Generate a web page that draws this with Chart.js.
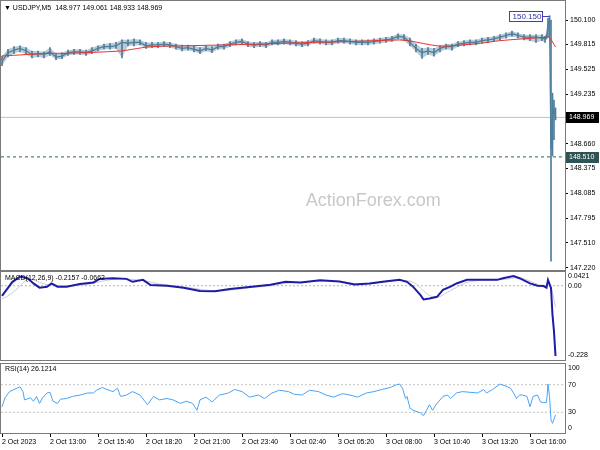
<!DOCTYPE html>
<html>
<head>
<meta charset="utf-8">
<title>USDJPY M5</title>
<script src="https://cdn.jsdelivr.net/npm/chart.js@4.4.0/dist/chart.umd.min.js"></script>
<style>
  body { margin: 0; background: #fff; }
  #wrap { position: relative; width: 600px; height: 450px; }
  canvas { position: absolute; left: 0; }
</style>
</head>
<body>
<div id="wrap">
  <canvas id="priceChart" width="600" height="271" style="top:0"></canvas>
  <canvas id="macdChart" width="600" height="90" style="top:271px"></canvas>
  <canvas id="rsiChart" width="600" height="89" style="top:361px"></canvas>
</div>
<script>
// M5 bars, x = bar number counted from 2 Oct 10:20
const timeIdx = [0, 32, 64, 96, 128, 160, 192, 224, 256, 288, 320, 352];
const timeLabels = ['2 Oct 2023', '2 Oct 13:00', '2 Oct 15:40', '2 Oct 18:20', '2 Oct 21:00', '2 Oct 23:40',
                    '3 Oct 02:40', '3 Oct 05:20', '3 Oct 08:00', '3 Oct 10:40', '3 Oct 13:20', '3 Oct 16:00'];

// price bars (sampled)
const barIdx = [0,4,8,12,16,20,24,28,32,36, 40,44,48,52,56,60,64,68,72,76,
                80,84,88,92,96,100,104,108,112,116, 120,124,128,132,136,140,144,148,152,156,
                160,164,168,172,176,180,184,188,192,196, 200,204,208,212,216,220,224,228,232,236,
                240,244,248,252,256,260,264,268,272,276, 280,284,288,292,296,300,304,308,312,316,
                320,324,328,332,336,340,344,348,352,356, 360,362,363,364,365,366,367,368,369];
const barClose = [149.62,149.72,149.75,149.77,149.74,149.70,149.71,149.70,149.73,149.67,
                  149.68,149.72,149.73,149.73,149.72,149.74,149.77,149.79,149.79,149.80,
                  149.84,149.83,149.84,149.84,149.80,149.81,149.81,149.82,149.81,149.79,
                  149.77,149.78,149.76,149.74,149.77,149.75,149.79,149.79,149.82,149.84,
                  149.85,149.82,149.81,149.82,149.81,149.84,149.84,149.85,149.84,149.83,
                  149.82,149.83,149.86,149.85,149.84,149.84,149.86,149.86,149.85,149.84,
                  149.84,149.84,149.85,149.86,149.87,149.88,149.91,149.90,149.84,149.77,
                  149.72,149.74,149.72,149.77,149.79,149.79,149.82,149.83,149.84,149.84,
                  149.86,149.87,149.88,149.90,149.92,149.94,149.92,149.90,149.90,149.90,
                  149.89,149.88,149.91,150.05,150.10,148.60,149.00,149.05,148.969];
const barLow = [149.57,149.67,149.71,149.73,149.70,149.66,149.67,149.66,149.69,149.64,
                149.65,149.69,149.70,149.70,149.69,149.71,149.74,149.76,149.76,149.77,
                149.66,149.80,149.80,149.81,149.77,149.78,149.78,149.79,149.78,149.76,
                149.74,149.75,149.73,149.71,149.74,149.72,149.76,149.76,149.79,149.81,
                149.82,149.79,149.78,149.79,149.78,149.81,149.81,149.82,149.81,149.80,
                149.79,149.80,149.83,149.82,149.81,149.81,149.83,149.83,149.82,149.81,
                149.81,149.81,149.82,149.83,149.84,149.85,149.88,149.86,149.80,149.73,
                149.655,149.70,149.68,149.73,149.76,149.75,149.79,149.80,149.81,149.81,
                149.83,149.84,149.85,149.87,149.89,149.91,149.89,149.87,149.86,149.84,
                149.86,149.84,149.88,149.90,149.98,147.30,148.52,148.71,148.94];
const barHigh = [149.68,149.76,149.79,149.80,149.78,149.74,149.74,149.73,149.78,149.71,
                 149.72,149.75,149.76,149.76,149.75,149.78,149.80,149.82,149.83,149.84,
                 149.87,149.87,149.88,149.87,149.84,149.84,149.84,149.85,149.84,149.82,
                 149.81,149.81,149.80,149.78,149.80,149.79,149.82,149.82,149.85,149.87,
                 149.88,149.85,149.84,149.85,149.84,149.87,149.87,149.88,149.87,149.86,
                 149.85,149.86,149.89,149.88,149.87,149.87,149.89,149.89,149.88,149.87,
                 149.87,149.87,149.88,149.89,149.90,149.91,149.94,149.93,149.89,149.82,
                 149.77,149.78,149.77,149.80,149.82,149.82,149.85,149.86,149.87,149.87,
                 149.89,149.90,149.91,149.93,149.95,149.97,149.95,149.93,149.93,149.93,
                 149.93,149.91,149.93,150.12,150.15,150.10,149.25,149.17,149.08];
const quietBars = 93;   // bars before the spike, drawn as a dense band

// moving average (red)
const maIdx = [0, 32, 43, 79, 87, 99, 132, 172, 199, 232, 265, 272, 290, 299, 319, 332, 352, 363, 365, 369];
const maVals = [149.682, 149.713, 149.713, 149.74, 149.76, 149.79, 149.804, 149.82, 149.836, 149.85,
                149.868, 149.856, 149.80, 149.80, 149.83, 149.86, 149.887, 149.90, 149.897, 149.786];

const priceTicks = [150.100, 149.815, 149.525, 149.235, 148.660, 148.375, 148.085, 147.795, 147.510, 147.220];
const lastPrice = 148.969;
const levelPrice = 148.510;
const sessionHigh = 150.150;
const sessionHighIdx = 365;

// MACD(12,26,9)
const macdIdx = [0,7,12,17,21,25,30,33,37,43, 52,61,65,74,83,87,94,99,110,121,
                 132,142,152,165,179,189,199,212,225,235, 245,255,265,270,274,279,281,285,290,294,
                 299,303,310,321,330,334,341,345,352,357, 361,363,364,366,367,368,369];
const macdVals = [-0.031,0.012,0.028,0.023,0.007,-0.006,-0.003,0.007,-0.003,-0.003,
                  0.005,0.010,0.021,0.023,0.021,0.012,0.018,0.002,0.000,-0.006,
                  -0.016,-0.017,-0.010,-0.004,0.003,0.012,0.010,0.017,0.013,0.004,
                  0.007,0.013,0.018,0.012,-0.003,-0.029,-0.042,-0.039,-0.034,-0.013,
                  -0.003,0.007,0.018,0.018,0.018,0.023,0.030,0.023,0.007,0.000,
                  -0.001,-0.006,0.018,-0.007,-0.090,-0.141,-0.2157];
const sigIdx = [0,3,10,17,22,28,35,45,55,65, 75,85,95,105,115,125,135,145,155,165,
                180,190,200,212,225,235,245,255,265,272, 277,282,287,292,297,303,310,320,330,338,
                345,352,358,364,366,369];
const sigVals = [-0.040,-0.034,-0.010,0.020,0.016,0.005,0.001,0.000,0.003,0.012,
                 0.020,0.020,0.015,0.005,0.000,-0.006,-0.013,-0.016,-0.012,-0.006,
                 0.000,0.008,0.010,0.014,0.013,0.007,0.006,0.011,0.016,0.014,
                 0.002,-0.020,-0.034,-0.033,-0.020,-0.005,0.010,0.017,0.018,0.021,
                 0.025,0.014,0.003,0.000,-0.005,-0.0662];
const macdAxis = [0.0421, 0, -0.228];
const macdAxisText = ['0.0421', '0.00', '-0.228'];

// RSI(14)
const rsiIdx = [0,2,5,10,12,14,15,19,21,23, 25,27,30,32,34,37,39,43,47,52,
                57,61,63,67,70,74,77,79,83,87, 92,97,101,105,110,114,119,123,127,130,
                132,136,140,145,151,155,160,165,171,175, 180,185,191,195,200,205,211,216,221,227,
                232,237,243,248,253,259,263,265,267,269, 270,272,274,279,281,283,285,287,290,294,
                297,299,303,307,312,317,321,323,327,332, 337,339,341,343,345,347,350,352,354,357,
                359,361,363,364,365,366,367,368,369];
const rsiVals = [38,51,60,65,67,60,48,51,46,53, 43,51,58,59,46,43,49,50,53,55,
                 58,58,62,66,63,60,65,53,55,60, 55,41,53,48,50,48,43,46,43,33,
                 48,52,45,55,58,63,60,52,55,50, 58,62,60,56,55,62,60,55,52,57,
                 55,52,58,60,63,66,70,71,65,50, 53,36,33,29,25,33,41,33,43,53,
                 55,50,58,60,59,58,63,58,63,71, 67,65,58,50,55,55,53,38,53,55,
                 45,44,44,71,53,19,14,20,26.12];
const rsiLevels = [70, 30];
const rsiAxis = [100, 70, 30, 0];

const FONT = "'Liberation Sans', Arial, sans-serif";
const X_MIN = -0.667, X_MAX = 375.333;
const BAR_COLOR = '#4f7e9b';

Chart.defaults.font.family = FONT;
Chart.defaults.font.size = 7;
Chart.defaults.color = '#000';
Chart.defaults.animation = false;

function pts(xs, ys) {
    return xs.map((x, i) => ({ x: x, y: ys[i] }));
}
function flat(v) {
    return [{ x: X_MIN, y: v }, { x: X_MAX, y: v }];
}

// box round each panel
const framePlugin = {
    id: 'frame',
    afterDraw(chart) {
        const a = chart.chartArea, ctx = chart.ctx;
        ctx.save();
        ctx.strokeStyle = '#7a7a7a';
        ctx.lineWidth = 1;
        ctx.strokeRect(a.left - 0.5, a.top - 0.5, a.right - a.left + 1, a.bottom - a.top + 1);
        ctx.restore();
    }
};

// name of the panel in the top left corner
const titlePlugin = {
    id: 'panelTitle',
    afterDraw(chart, args, opts) {
        const a = chart.chartArea, ctx = chart.ctx;
        ctx.save();
        ctx.font = '7px ' + FONT;
        ctx.fillStyle = '#000';
        ctx.textBaseline = 'middle';
        ctx.textAlign = 'left';
        ctx.fillText(opts.text, a.left + opts.dx, a.top + opts.dy);
        ctx.restore();
    }
};

// right hand labels of the indicator windows (kept inside the panel like MT4)
const sideLabelsPlugin = {
    id: 'sideLabels',
    afterDraw(chart, args, opts) {
        const a = chart.chartArea, ctx = chart.ctx, y = chart.scales.y;
        ctx.save();
        ctx.font = '7px ' + FONT;
        ctx.fillStyle = '#000';
        ctx.textBaseline = 'middle';
        ctx.textAlign = 'left';
        opts.values.forEach((v, i) => {
            let py = y.getPixelForValue(v);
            py = Math.min(Math.max(py, a.top + 4.5), a.bottom - 4.5);
            ctx.fillText(opts.labels[i], a.right + 3, py);
        });
        ctx.restore();
    }
};

const watermarkPlugin = {
    id: 'watermark',
    beforeDatasetsDraw(chart) {
        const a = chart.chartArea, ctx = chart.ctx;
        ctx.save();
        ctx.font = '18px ' + FONT;
        ctx.fillStyle = '#c8c8c8';
        ctx.textAlign = 'center';
        ctx.textBaseline = 'middle';
        ctx.fillText('ActionForex.com', a.left + (a.right - a.left) * 0.66, a.top + (a.bottom - a.top) * 0.743);
        ctx.restore();
    }
};

// price tags on the axis and the high callout
const priceTagsPlugin = {
    id: 'priceTags',
    afterDraw(chart) {
        const a = chart.chartArea, ctx = chart.ctx, y = chart.scales.y, x = chart.scales.x;
        ctx.save();
        ctx.font = '7px ' + FONT;
        ctx.textBaseline = 'middle';
        ctx.textAlign = 'left';
        [[lastPrice, '#000000'], [levelPrice, '#2f5353']].forEach(t => {
            const py = Math.round(y.getPixelForValue(t[0]));
            ctx.fillStyle = t[1];
            ctx.fillRect(a.right + 1, py - 5, 33, 11);
            ctx.fillStyle = '#fff';
            ctx.fillText(t[0].toFixed(3), a.right + 4, py + 0.5);
        });
        // session high
        const hx = x.getPixelForValue(sessionHighIdx);
        const hy = Math.round(y.getPixelForValue(sessionHigh)) + 0.5;
        const bx = Math.round(hx) - 40.5;
        ctx.fillStyle = '#fff';
        ctx.fillRect(bx, hy - 5, 33, 10);
        ctx.strokeStyle = '#4040b8';
        ctx.lineWidth = 1;
        ctx.strokeRect(bx, hy - 5, 33, 10);
        ctx.beginPath();
        ctx.moveTo(bx + 33, hy);
        ctx.lineTo(hx, hy);
        ctx.stroke();
        ctx.fillStyle = '#3030a8';
        ctx.font = '8px ' + FONT;
        ctx.fillText(sessionHigh.toFixed(3), bx + 3, hy + 0.5);
        ctx.restore();
    }
};

function hiddenX() {
    return { type: 'linear', display: false, offset: false, min: X_MIN, max: X_MAX, grid: { offset: false } };
}

const bandIdx = barIdx.slice(0, quietBars);

// Price window
new Chart(document.getElementById('priceChart'), {
    type: 'bar',
    data: {
        datasets: [
            {
                type: 'line', data: pts(maIdx, maVals), borderColor: '#e8322e', borderWidth: 1,
                pointRadius: 0, tension: 0.3, order: 0
            },
            {
                type: 'line', data: pts(barIdx, barClose), borderColor: BAR_COLOR, borderWidth: 1.3,
                pointRadius: 0, order: 1
            },
            {
                type: 'bar', data: barIdx.map((v, i) => ({ x: v, y: [barLow[i], barHigh[i]] })),
                backgroundColor: BAR_COLOR, barThickness: 1, grouped: false, order: 2
            },
            {
                type: 'line', data: pts(bandIdx, barHigh.slice(0, quietBars)), borderWidth: 0,
                pointRadius: 0, fill: '+1', backgroundColor: 'rgba(79,126,155,0.4)', order: 3
            },
            {
                type: 'line', data: pts(bandIdx, barLow.slice(0, quietBars)), borderWidth: 0,
                pointRadius: 0, order: 4
            },
            {
                type: 'line', data: flat(levelPrice), borderColor: '#2f6060', borderWidth: 1,
                borderDash: [3, 3], pointRadius: 0, order: 5
            },
            {
                type: 'line', data: flat(lastPrice), borderColor: '#c0c0c0', borderWidth: 1,
                pointRadius: 0, order: 6
            }
        ]
    },
    options: {
        responsive: false,
        devicePixelRatio: 1,
        events: [],
        layout: { padding: { left: 1, top: 1, bottom: 1, right: 0 } },
        plugins: {
            legend: { display: false },
            tooltip: { enabled: false },
            panelTitle: { text: '\u25BC USDJPY,M5  148.977 149.061 148.933 148.969', dx: 3, dy: 7 }
        },
        scales: {
            x: hiddenX(),
            y: {
                position: 'right',
                min: 147.1964,
                max: 150.3207,
                afterBuildTicks: s => { s.ticks = priceTicks.map(v => ({ value: v })); },
                afterFit: s => { s.width = 35; s.paddingTop = 0; s.paddingBottom = 0; },
                ticks: { autoSkip: false, padding: 2, callback: v => v.toFixed(3) },
                grid: { drawOnChartArea: false, tickLength: 3, tickColor: '#000' },
                border: { display: false }
            }
        }
    },
    plugins: [watermarkPlugin, framePlugin, titlePlugin, priceTagsPlugin]
});

// MACD window
new Chart(document.getElementById('macdChart'), {
    type: 'line',
    data: {
        datasets: [
            { data: pts(macdIdx, macdVals), borderColor: '#1c1ca6', borderWidth: 2, pointRadius: 0, order: 0 },
            { data: pts(sigIdx, sigVals), borderColor: '#cccccc', borderWidth: 1, pointRadius: 0, tension: 0.3, order: 1 },
            { data: flat(0), borderColor: '#b4b4b4', borderWidth: 1, borderDash: [2, 2], pointRadius: 0, order: 2 }
        ]
    },
    options: {
        responsive: false,
        devicePixelRatio: 1,
        events: [],
        layout: { padding: { left: 1, top: 1, bottom: 1, right: 35 } },
        plugins: {
            legend: { display: false },
            tooltip: { enabled: false },
            panelTitle: { text: 'MACD(12,26,9) -0.2157 -0.0662', dx: 4, dy: 6 },
            sideLabels: { values: macdAxis, labels: macdAxisText }
        },
        scales: {
            x: hiddenX(),
            y: { display: false, min: -0.228, max: 0.0421 }
        }
    },
    plugins: [framePlugin, titlePlugin, sideLabelsPlugin]
});

// RSI window with the time axis
new Chart(document.getElementById('rsiChart'), {
    type: 'line',
    data: {
        datasets: [
            { data: pts(rsiIdx, rsiVals), borderColor: '#4aa3f5', borderWidth: 1, pointRadius: 0, order: 0 },
            { data: flat(rsiLevels[0]), borderColor: '#c4c4c4', borderWidth: 1, borderDash: [2, 2], pointRadius: 0, order: 1 },
            { data: flat(rsiLevels[1]), borderColor: '#c4c4c4', borderWidth: 1, borderDash: [2, 2], pointRadius: 0, order: 2 }
        ]
    },
    options: {
        responsive: false,
        devicePixelRatio: 1,
        events: [],
        layout: { padding: { left: 1, top: 3, bottom: 0, right: 35 } },
        plugins: {
            legend: { display: false },
            tooltip: { enabled: false },
            panelTitle: { text: 'RSI(14) 26.1214', dx: 4, dy: 5 },
            sideLabels: { values: rsiAxis, labels: rsiAxis.map(String) }
        },
        scales: {
            x: {
                type: 'linear',
                min: X_MIN,
                max: X_MAX,
                afterBuildTicks: s => { s.ticks = timeIdx.map(v => ({ value: v })); },
                afterFit: s => { s.height = 17; s.paddingLeft = 0; s.paddingRight = 0; },
                ticks: {
                    autoSkip: false, maxRotation: 0, minRotation: 0, align: 'start', padding: 1,
                    callback: (v, i) => timeLabels[i]
                },
                grid: { drawOnChartArea: false, tickLength: 4, tickColor: '#000' },
                border: { display: false }
            },
            y: { display: false, min: 0, max: 100 }
        }
    },
    plugins: [framePlugin, titlePlugin, sideLabelsPlugin]
});
</script>
</body>
</html>
